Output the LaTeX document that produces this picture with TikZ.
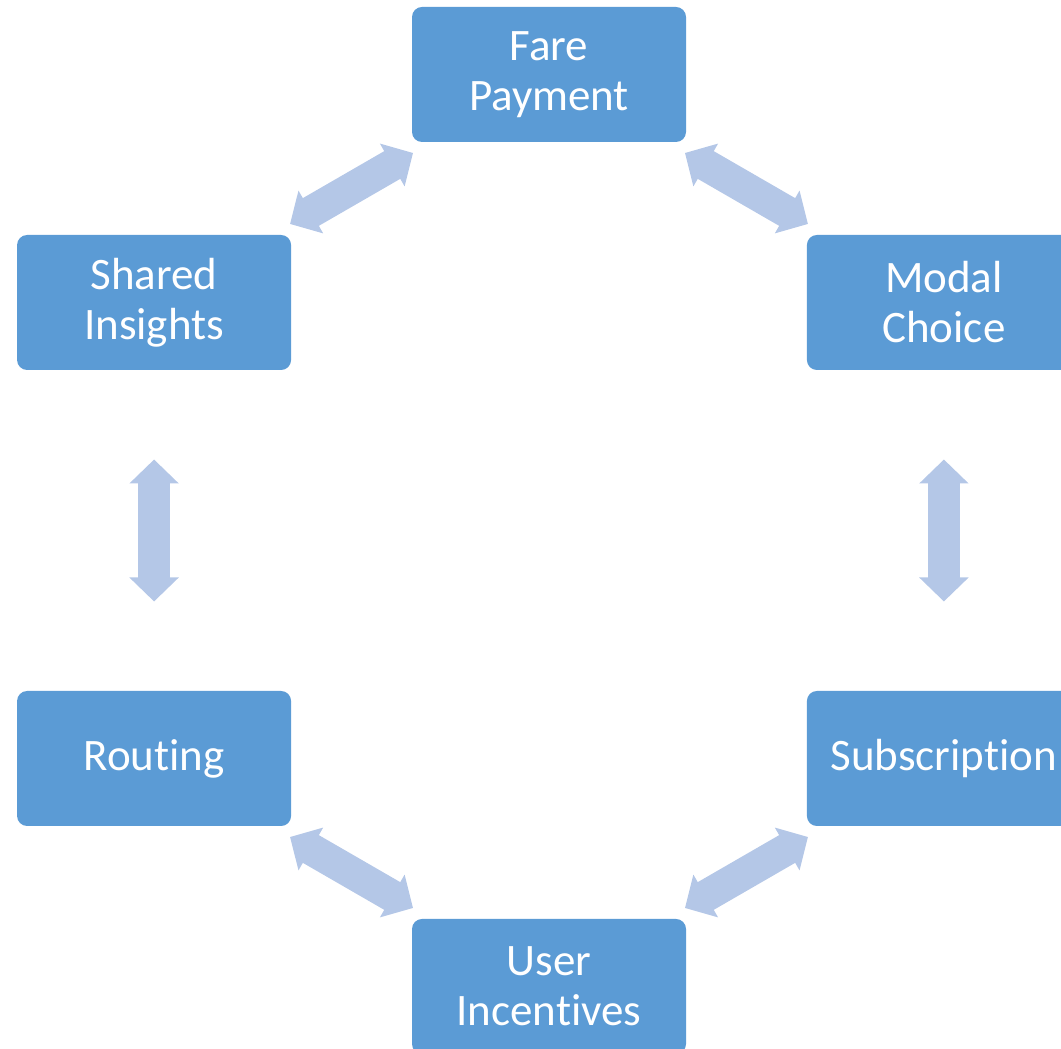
\documentclass[tikz,border=0pt]{standalone}
\usepackage{fontspec}
\setmainfont{Carlito}[Ligatures=NoCommon]
\usetikzlibrary{arrows.meta}
\definecolor{boxblue}{HTML}{5B9BD5}
\definecolor{linkblue}{HTML}{B4C7E7}

\begin{document}
\begin{tikzpicture}[x=1pt,y=1pt,
    box/.style={fill=boxblue,rounded corners=10pt,minimum width=274pt,
      minimum height=135pt,inner sep=0pt,text=white,align=center,
      font=\fontsize{45}{50}\selectfont},
    link/.style={linkblue,line width=32pt,
      {Triangle[width=48pt,length=24pt]}-{Triangle[width=48pt,length=24pt]},
      shorten <=157pt,shorten >=157pt}]
  \useasboundingbox (0,0) rectangle (1061,1049);
  \clip (0,0) rectangle (1061,1049);
  \coordinate (C) at (549,518.5);
  % six boxes round the centre
  \node[box] (fare) at ([shift={(90:456)}]C) {Fare\\Payment};
  \node[box] (modal) at ([shift={(30:456)}]C) {Modal\\Choice};
  \node[box] (subs) at ([shift={(-30:456)}]C) {Subscription};
  \node[box] (user) at ([shift={(-90:456)}]C) {User\\Incentives};
  \node[box] (routing) at ([shift={(210:456)}]C) {Routing};
  \node[box] (shared) at ([shift={(150:456)}]C) {Shared\\Insights};
  % double arrows
  \draw[link] (fare.center) -- (modal.center);
  \draw[link] (modal.center) -- (subs.center);
  \draw[link] (subs.center) -- (user.center);
  \draw[link] (user.center) -- (routing.center);
  \draw[link] (routing.center) -- (shared.center);
  \draw[link] (shared.center) -- (fare.center);
\end{tikzpicture}
\end{document}
